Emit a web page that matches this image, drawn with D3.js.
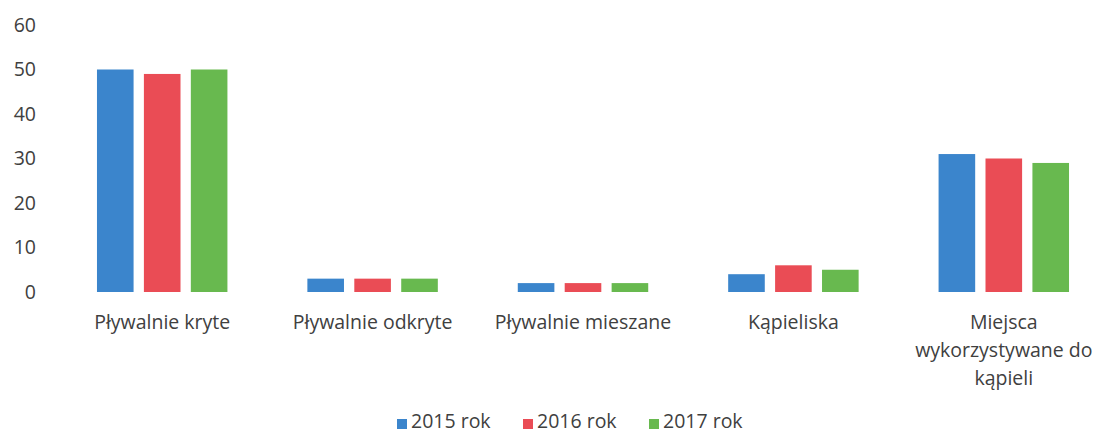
<!DOCTYPE html>
<html>
<head>
<meta charset="utf-8">
<script src="https://cdn.jsdelivr.net/npm/d3@7"></script>
<style>
  body { margin: 0; background: #fff; }
  text { font-family: "Open Sans", "Noto Sans", sans-serif; fill: #404040; }
</style>
</head>
<body>
<div id="chart"></div>
<script>
var categories = ["Pływalnie kryte", "Pływalnie odkryte", "Pływalnie mieszane", "Kąpieliska", "Miejsca wykorzystywane do kąpieli"];
var seriesNames = ["2015 rok", "2016 rok", "2017 rok"];
var values2015 = [50, 3, 2, 4, 31];
var values2016 = [49, 3, 2, 6, 30];
var values2017 = [50, 3, 2, 5, 29];
var yTicks = [0, 10, 20, 30, 40, 50, 60];
var colors = ["#3b85cc", "#ea4c55", "#68b94f"];

var series = [values2015, values2016, values2017];

var width = 1097, height = 434;
var margin = {left: 57, right: -12, top: 25, bottom: 142};
var fontSize = "19.5px";

var svg = d3.select("#chart").append("svg")
  .attr("width", width)
  .attr("height", height);

var x0 = d3.scaleBand()
  .domain(categories)
  .range([margin.left, width - margin.right])
  .paddingInner(0.38)
  .paddingOuter(0.19);

var x1 = d3.scaleBand()
  .domain(d3.range(seriesNames.length))
  .range([0, x0.bandwidth()])
  .paddingInner(0.22);

var y = d3.scaleLinear()
  .domain([0, 60])
  .range([height - margin.bottom, margin.top]);

// y axis labels only, no line or ticks
var yAxis = svg.append("g")
  .attr("transform", "translate(46,0)")
  .call(d3.axisLeft(y).tickValues(yTicks).tickSize(0).tickPadding(10));
yAxis.select(".domain").remove();
yAxis.selectAll("text")
  .style("font-size", fontSize)
  .style("font-family", "'Open Sans', sans-serif")
  .attr("fill", "#404040");

var groups = svg.selectAll(".cat")
  .data(categories)
  .enter().append("g")
  .attr("class", "cat")
  .attr("transform", d => "translate(" + x0(d) + ",0)");

groups.selectAll("rect")
  .data((d, i) => series.map((s, j) => ({s: j, v: s[i]})))
  .enter().append("rect")
  .attr("x", d => x1(d.s))
  .attr("width", x1.bandwidth())
  .attr("y", d => y(d.v))
  .attr("height", d => y(0) - y(d.v))
  .attr("fill", d => colors[d.s]);

// category labels, wrapped like Excel does
var labelLines = {
  "Miejsca wykorzystywane do kąpieli": ["Miejsca", "wykorzystywane do", "kąpieli"]
};
groups.each(function(d) {
  var lines = labelLines[d] || [d];
  var t = d3.select(this).append("text")
    .attr("x", x0.bandwidth() / 2)
    .attr("y", 329)
    .attr("text-anchor", "middle")
    .style("font-size", fontSize);
  lines.forEach(function(l, i) {
    t.append("tspan")
      .attr("x", x0.bandwidth() / 2)
      .attr("dy", i == 0 ? 0 : 28)
      .text(l);
  });
});

// legend
var legendX = [397, 523, 649];
var legend = svg.selectAll(".legend")
  .data(seriesNames)
  .enter().append("g")
  .attr("class", "legend")
  .attr("transform", (d, i) => "translate(" + legendX[i] + ",419)");
legend.append("rect")
  .attr("width", 10)
  .attr("height", 10)
  .attr("fill", (d, i) => colors[i]);
legend.append("text")
  .attr("x", 14)
  .attr("y", 9)
  .style("font-size", fontSize)
  .text(d => d);
</script>
</body>
</html>
